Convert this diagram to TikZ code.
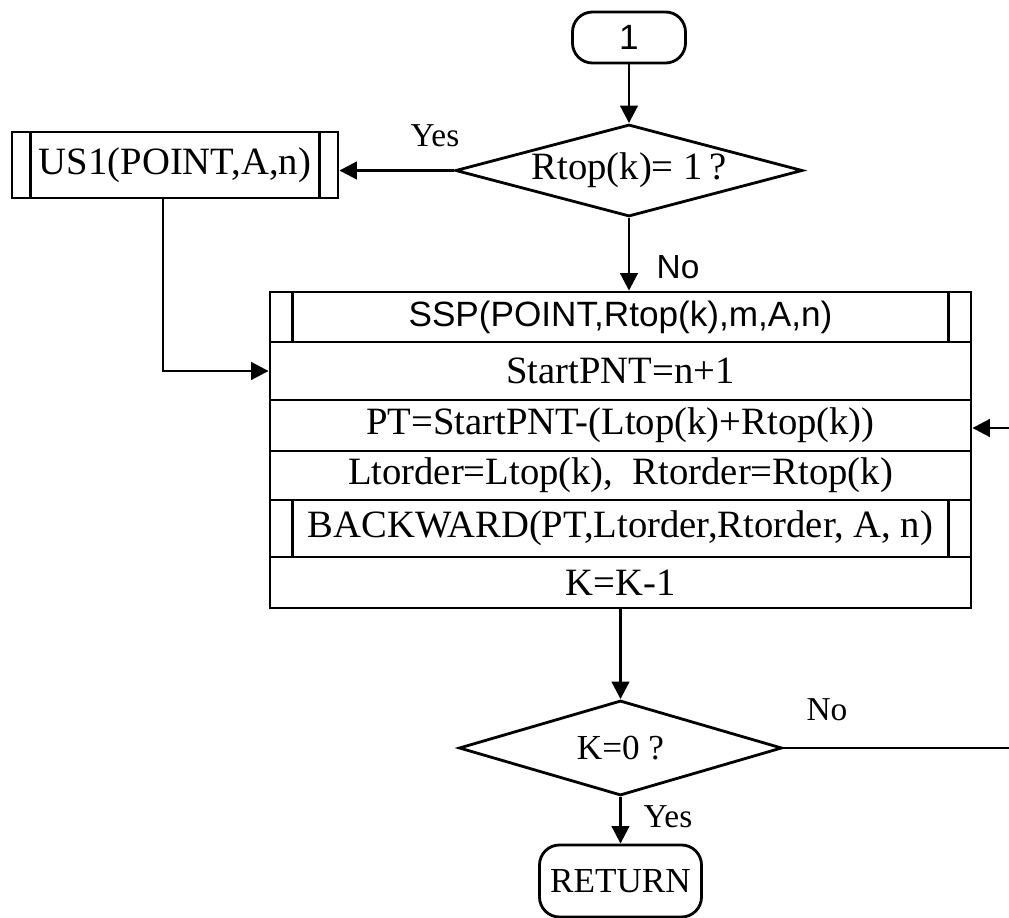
\documentclass[tikz,border=0pt]{standalone}
\usepackage{fontspec}
\setmainfont{Liberation Serif}
\newfontfamily\sanslab{Liberation Sans}
\usetikzlibrary{shapes.geometric,arrows.meta}

\begin{document}
\begin{tikzpicture}[
  line width=0.8pt,
  >={Triangle[length=5pt,width=5pt]},
  every node/.style={font=\fontsize{11}{13}\selectfont},
  row/.style={draw,minimum width=7.01cm,inner sep=0pt},
  term/.style={draw,rounded corners=0.2cm,inner sep=0pt},
  decision/.style={draw,diamond,inner sep=0pt},
  subproc/.style={draw,inner sep=0pt},
  lbl/.style={inner sep=0pt,font=\fontsize{9.5}{11}\selectfont}
]

\useasboundingbox (0,0) rectangle (10.09,-9.18);

\pgfmathsetmacro{\bx}{6.205}
\pgfmathsetmacro{\ins}{0.24}

\node[term,minimum width=1.13cm,minimum height=0.51cm,font=\sanslab\fontsize{10}{12}\selectfont] (start) at (6.29,-0.375) {1};
\node[decision,aspect=3.76,minimum width=3.47cm,minimum height=0.92cm] (rtop) at (6.29,-1.705) {Rtop(k)= 1\,?};
\node[subproc,minimum width=3.26cm,minimum height=0.66cm] (us1) at (1.75,-1.65) {US1(POINT,A,n)};

\node[row,minimum height=0.50cm,font=\sanslab\fontsize{10}{12}\selectfont] (ssp) at (\bx,-3.17) {SSP(POINT,Rtop(k),m,A,n)};
\node[row,minimum height=0.58cm] (spnt) at (\bx,-3.71) {StartPNT=n+1};
\node[row,minimum height=0.51cm] (pt) at (\bx,-4.255) {PT=StartPNT-(Ltop(k)+Rtop(k))};
\node[row,minimum height=0.49cm] (lto) at (\bx,-4.755) {Ltorder=Ltop(k),\ \ Rtorder=Rtop(k)};
\node[row,minimum height=0.57cm] (bwd) at (\bx,-5.285) {BACKWARD(PT,Ltorder,Rtorder, A, n)};
\node[row,minimum height=0.51cm] (kdec) at (\bx,-5.825) {K=K-1};

\foreach \n/\d in {us1/0.20,ssp/\ins,bwd/\ins}
  \draw ([xshift=\d cm]\n.north west) -- ([xshift=\d cm]\n.south west)
        ([xshift=-\d cm]\n.north east) -- ([xshift=-\d cm]\n.south east);

\node[decision,aspect=3.4,minimum width=3.23cm,minimum height=0.95cm,font=\fontsize{10}{12}\selectfont] (kzero) at (\bx,-7.48) {K=0 ?};
\node[term,minimum width=1.62cm,minimum height=0.72cm,font=\fontsize{10}{12}\selectfont] (ret) at (\bx,-8.81) {RETURN};

\coordinate (loopout) at (10.09,-7.45);
\coordinate (loopin) at (10.09,-4.28);

\draw[->] (start) -- (rtop);
\draw[->] (rtop.west) -- (rtop.west -| us1.east);
\draw[->] (rtop.south) -- (rtop.south |- ssp.north);
\draw[->] ([xshift=-1.2mm]us1.south) |- (spnt.west);
\draw[->] (kdec.south) -- (kzero.north);
\draw (kzero.east) -- (kzero.east -| loopout);
\draw[->] (loopin) -- (loopin -| pt.east);
\draw[->] (kzero.south) -- (ret.north);

\node[lbl] (yes1) at (4.35,-1.36) {Yes};
\node[lbl,font=\sanslab\fontsize{9.5}{11}\selectfont] (no1) at (6.78,-2.67) {No};
\node[lbl] (no2) at (8.27,-7.10) {No};
\node[lbl] (yes2) at (6.68,-8.17) {Yes};
\end{tikzpicture}
\end{document}
